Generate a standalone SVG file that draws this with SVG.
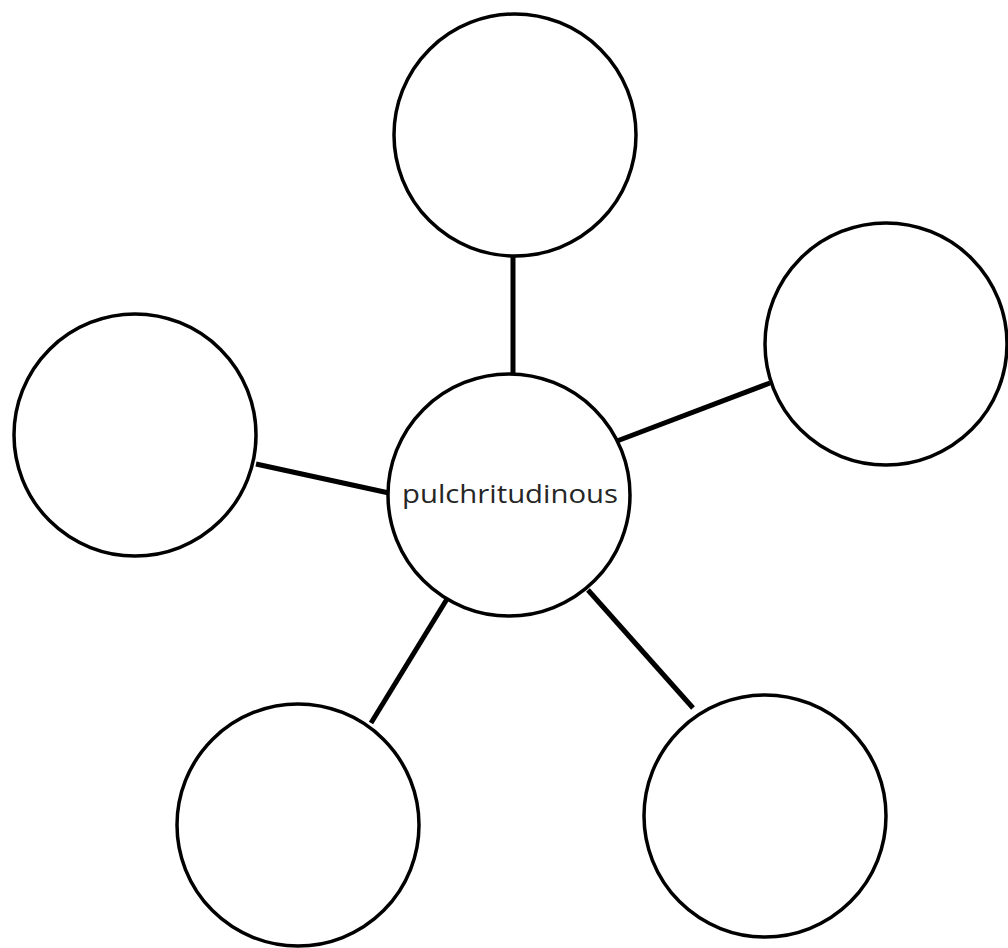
<svg xmlns="http://www.w3.org/2000/svg" width="1008" height="948" viewBox="0 0 1008 948">
<style>
.n{fill:#fff;stroke:#000;stroke-width:3.5}
.c{stroke:#000;stroke-width:5;fill:none}
.t{font-family:"Open Sans","Noto Sans",sans-serif;font-size:26px;fill:#262626}
</style>
<rect width="1008" height="948" fill="#fff"/>
<g id="connectors">
<line class="c" x1="513" y1="257" x2="513" y2="375"/>
<line class="c" x1="617" y1="441" x2="770" y2="383"/>
<line class="c" x1="256" y1="464" x2="389" y2="493"/>
<line class="c" x1="447" y1="599" x2="371" y2="723"/>
<line class="c" x1="588" y1="590" x2="693" y2="708"/>
</g>
<g id="center"><circle class="n" cx="509" cy="495" r="121"/><text class="t" x="510" y="503" text-anchor="middle" textLength="216" lengthAdjust="spacingAndGlyphs">pulchritudinous</text></g>
<g id="top"><circle class="n" cx="515" cy="135" r="121"/></g>
<g id="right"><circle class="n" cx="886" cy="344" r="121"/></g>
<g id="left"><circle class="n" cx="135" cy="435" r="121"/></g>
<g id="bottom-left"><circle class="n" cx="298" cy="825" r="121"/></g>
<g id="bottom-right"><circle class="n" cx="765" cy="816" r="121"/></g>
</svg>
